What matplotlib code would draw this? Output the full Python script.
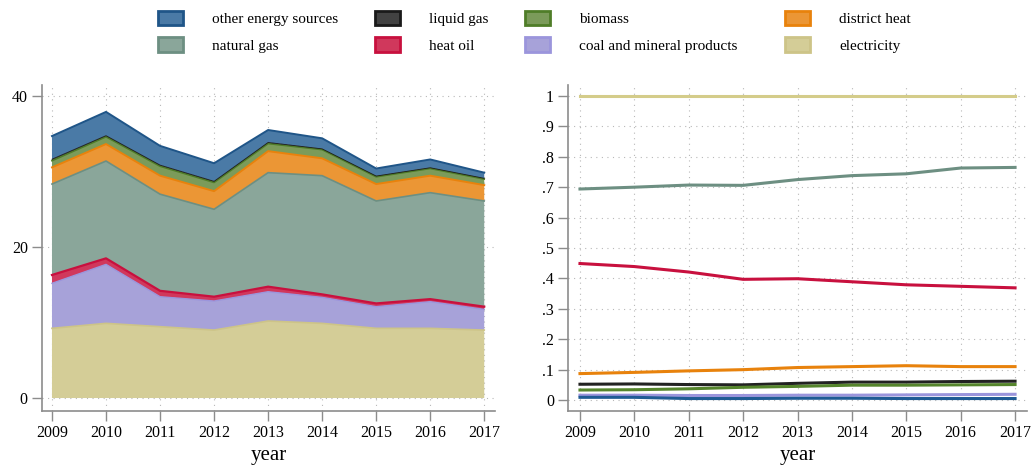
import matplotlib.pyplot as plt
from matplotlib.patches import Patch
import numpy as np

plt.rcParams['font.family'] = ['Liberation Serif', 'DejaVu Serif']

years = [2009, 2010, 2011, 2012, 2013, 2014, 2015, 2016, 2017]

# energy use per year, stacked bottom -> top on the left panel
electricity = [9.23, 9.89, 9.45, 9.00, 10.20, 9.89, 9.23, 9.23, 9.00]
coal = [5.96, 7.81, 3.97, 3.85, 3.88, 3.44, 2.87, 3.53, 2.74]
heat_oil = [1.11, 0.80, 0.78, 0.57, 0.67, 0.40, 0.43, 0.34, 0.36]
natural_gas = [12.04, 12.89, 12.80, 11.58, 15.10, 15.72, 13.57, 14.10, 14.00]
district_heat = [2.21, 2.25, 2.45, 2.40, 2.85, 2.30, 2.24, 2.25, 2.10]
biomass = [0.88, 0.96, 1.25, 1.15, 1.00, 1.15, 0.96, 0.95, 0.80]
liquid_gas = [0.20, 0.15, 0.15, 0.15, 0.15, 0.10, 0.10, 0.10, 0.10]
other = [3.07, 3.15, 2.55, 2.40, 1.65, 1.40, 1.00, 1.10, 0.75]

# shares on the right panel
sh_electricity = [1, 1, 1, 1, 1, 1, 1, 1, 1]
sh_natural_gas = [0.694, 0.700, 0.707, 0.706, 0.725, 0.738, 0.744, 0.763, 0.765]
sh_heat_oil = [0.449, 0.439, 0.421, 0.397, 0.399, 0.389, 0.379, 0.374, 0.369]
sh_district_heat = [0.087, 0.091, 0.096, 0.100, 0.107, 0.110, 0.113, 0.110, 0.110]
sh_liquid_gas = [0.052, 0.053, 0.051, 0.050, 0.055, 0.059, 0.059, 0.061, 0.062]
sh_biomass = [0.033, 0.034, 0.037, 0.042, 0.045, 0.049, 0.049, 0.050, 0.051]
sh_coal = [0.016, 0.016, 0.015, 0.015, 0.016, 0.016, 0.017, 0.018, 0.019]
sh_other = [0.009, 0.009, 0.005, 0.005, 0.006, 0.006, 0.005, 0.005, 0.005]

labels = ['electricity', 'coal and mineral products', 'heat oil', 'natural gas',
          'district heat', 'biomass', 'liquid gas', 'other energy sources']
fills = ['#d4cd97', '#a7a2d9', '#d0385c', '#8aa69a',
         '#eb9635', '#7b9b5a', '#424242', '#4a7aa6']
edges = ['#cdc488', '#9b95dc', '#c8103e', '#6d8f82',
         '#e8820c', '#4f7d28', '#1a1a1a', '#1f5588']
edge_lw = [1.2, 1.0, 1.6, 1.2, 1.4, 1.2, 0.6, 1.4]
layers = [electricity, coal, heat_oil, natural_gas, district_heat, biomass, liquid_gas, other]
shares = [sh_electricity, sh_coal, sh_heat_oil, sh_natural_gas,
          sh_district_heat, sh_biomass, sh_liquid_gas, sh_other]

fig = plt.figure(figsize=(10.35, 4.66), dpi=100)
ax1 = fig.add_axes([0.0403, 0.118, 0.438, 0.6996])
ax2 = fig.add_axes([0.5488, 0.118, 0.4435, 0.6996])

grid_kw = dict(color='#b8b8b8', linestyle=(0, (1, 4)), linewidth=0.8)

# left: stacked areas
base = np.zeros(len(years))
for vals, fc, ec, lw in zip(layers, fills, edges, edge_lw):
    top = base + np.array(vals)
    ax1.fill_between(years, base, top, facecolor=fc, edgecolor='none', zorder=2)
    ax1.plot(years, top, color=ec, lw=lw, zorder=3)
    base = top
ax1.set_ylim(-1.72, 41.46)
ax1.set_xlim(2008.81, 2017.2)
ax1.set_yticks([0, 20, 40])

# right: shares
order = [0, 3, 2, 4, 6, 5, 1, 7]
line_cols = ['#d4cc8a', '#9b95dc', '#c8103e', '#6d8f82',
             '#e8820c', '#55852c', '#222222', '#1f5b94']
for i in order:
    ax2.plot(years, shares[i], color=line_cols[i], lw=2.2, zorder=3)
ax2.set_ylim(-0.036, 1.036)
ax2.set_xlim(2008.78, 2017.22)
ax2.set_yticks(np.arange(0, 1.01, 0.1))
ax2.set_yticklabels(['0', '.1', '.2', '.3', '.4', '.5', '.6', '.7', '.8', '.9', '1'])

for ax in (ax1, ax2):
    ax.set_xticks(years)
    ax.grid(True, zorder=1, **grid_kw)
    ax.set_axisbelow(True)
    for s in ('top', 'right'):
        ax.spines[s].set_visible(False)
    for s in ('left', 'bottom'):
        ax.spines[s].set_color('#8c8c8c')
        ax.spines[s].set_linewidth(1.2)
    ax.tick_params(length=7, width=1, color='#8c8c8c', labelsize=11.5, pad=3)
    ax.set_xlabel('year', fontsize=15, labelpad=4)

# legend, four columns placed like the original
cols = [(7, 3), (6, 2), (5, 1), (4, 0)]
xs = [158, 375, 525, 785]
for (a, b), x in zip(cols, xs):
    handles = [Patch(facecolor=fills[k], edgecolor=edges[k], linewidth=2, label=labels[k])
               for k in (a, b)]
    fig.legend(handles=handles, loc='upper left', bbox_to_anchor=(x / 1035, 0.976),
               frameon=False, fontsize=11, handlelength=1.65, handleheight=1.05,
               handletextpad=1.9, labelspacing=0.72, borderpad=0, borderaxespad=0)

fig.savefig('out.png', dpi=100)
